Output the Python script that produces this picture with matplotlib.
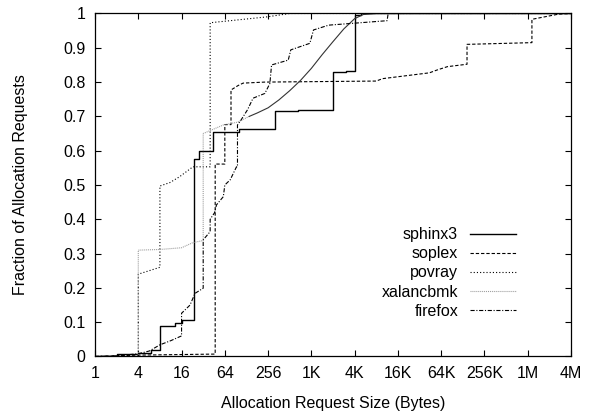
import matplotlib
matplotlib.use('Agg')
import matplotlib.pyplot as plt
from matplotlib import rcParams

rcParams['font.family'] = ['Liberation Sans', 'DejaVu Sans']
rcParams['font.size'] = 11.5
rcParams['lines.scale_dashes'] = False

# allocation request size (bytes) vs cumulative fraction
sphinx3_x = [1, 2, 4, 6, 8, 13, 16, 24, 28, 44, 100, 320, 660, 2048, 3100, 4096, 5000, 4194304]
sphinx3_y = [0, 0.007, 0.011, 0.020, 0.089, 0.098, 0.106, 0.576, 0.600, 0.654, 0.664, 0.715, 0.720, 0.830, 0.833, 0.996, 1.0, 1.0]

soplex_x = [1, 4, 47, 47, 64, 64, 78, 78, 98, 115, 230, 8192, 10000, 45000, 57000, 80000,
            150000, 150000, 1200000, 1200000, 2800000, 4194304]
soplex_y = [0, 0.004, 0.007, 0.561, 0.561, 0.676, 0.676, 0.777, 0.790, 0.797, 0.800, 0.803, 0.810,
            0.827, 0.835, 0.845, 0.852, 0.910, 0.915, 0.983, 0.998, 1.0]

povray_x = [1, 4, 4, 8, 8, 11, 15, 23, 40, 40, 244, 512, 4194304]
povray_y = [0, 0, 0.240, 0.260, 0.497, 0.507, 0.524, 0.553, 0.553, 0.973, 0.990, 1.0, 1.0]

xalanc_x = [1, 4, 4, 8, 16, 23, 32, 32, 61, 96, 140, 181, 256, 362, 512, 724, 1024, 1448,
            2048, 2896, 4096, 5405, 8192, 4194304]
xalanc_y = [0, 0, 0.310, 0.312, 0.317, 0.332, 0.338, 0.650, 0.675, 0.683, 0.700, 0.710, 0.725,
            0.748, 0.775, 0.805, 0.840, 0.880, 0.918, 0.955, 0.985, 0.997, 1.0, 1.0]
xalanc_split = 10  # dense part of the curve draws as a solid line

firefox_x = [1, 2, 4, 5.7, 8, 11.3, 16, 16, 21, 24.6, 32, 32, 40, 40, 46, 49, 61, 64, 76, 93, 96, 96,
             108, 133, 158, 231, 271, 286, 488, 530, 975, 1097, 1783, 11585, 11990, 4194304]
firefox_y = [0, 0.002, 0.008, 0.016, 0.034, 0.046, 0.060, 0.126, 0.150, 0.184, 0.199, 0.340, 0.364,
             0.400, 0.419, 0.442, 0.466, 0.500, 0.515, 0.553, 0.553, 0.675, 0.690, 0.720, 0.753, 0.767,
             0.796, 0.850, 0.864, 0.894, 0.913, 0.952, 0.966, 0.979, 1.0, 1.0]

xticks = [4 ** k for k in range(12)]
xtick_labels = ['1', '4', '16', '64', '256', '1K', '4K', '16K', '64K', '256K', '1M', '4M']
yticks = [i / 10 for i in range(11)]
ytick_labels = ['0', '0.1', '0.2', '0.3', '0.4', '0.5', '0.6', '0.7', '0.8', '0.9', '1']

fig = plt.figure(figsize=(5.92, 4.15), dpi=100)
ax = fig.add_axes([0.1605, 0.141, 0.804, 0.8265])

ax.plot(sphinx3_x, sphinx3_y, color='black', lw=1.0, drawstyle='steps-post', label='sphinx3')
ax.plot(soplex_x, soplex_y, color='black', lw=0.8, linestyle=(0, (2.4, 1.4)), label='soplex')
ax.plot(povray_x, povray_y, color='black', lw=0.8, linestyle=(0, (0.8, 1.5)), label='povray')
ax.plot(xalanc_x[:xalanc_split + 1], xalanc_y[:xalanc_split + 1], color='#9a9a9a', lw=0.8,
        linestyle=(0, (0.7, 0.7)), label='xalancbmk')
ax.plot(xalanc_x[xalanc_split:], xalanc_y[xalanc_split:], color='#333333', lw=0.8)
ax.plot(firefox_x, firefox_y, color='black', lw=0.8, linestyle=(0, (3, 1.2, 0.8, 1.2)), label='firefox')

ax.set_xscale('log', base=2)
ax.set_xlim(1, 4 ** 11)
ax.set_ylim(0, 1)
ax.set_xticks(xticks)
ax.set_xticklabels(xtick_labels)
ax.set_yticks(yticks)
ax.set_yticklabels(ytick_labels)
ax.minorticks_off()
ax.tick_params(direction='in', length=4, width=0.8, top=True, right=True, pad=7)
for s in ax.spines.values():
    s.set_linewidth(0.9)

ax.set_xlabel('Allocation Request Size (Bytes)', labelpad=11)
ax.set_ylabel('Fraction of Allocation Requests', labelpad=25)

ax.legend(loc='upper right', bbox_to_anchor=(0.883, 0.468), bbox_transform=fig.transFigure,
          frameon=False, markerfirst=False, handlelength=2.9, handletextpad=0.75,
          labelspacing=0.26, borderaxespad=0)

fig.savefig('out.png', dpi=100)
